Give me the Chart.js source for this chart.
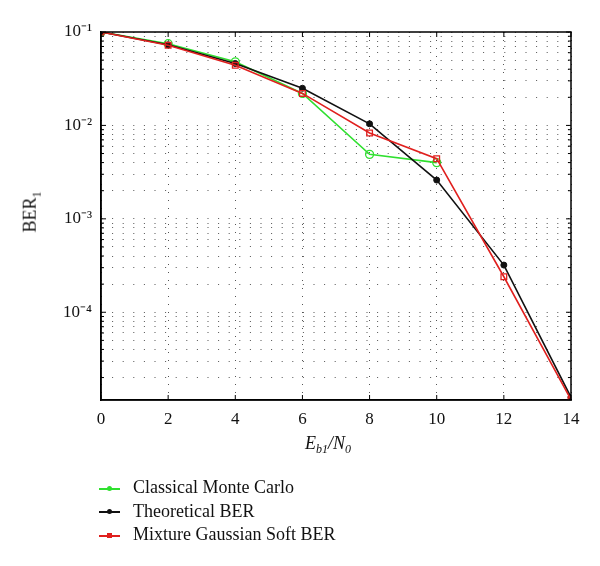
<!DOCTYPE html>
<html>
<head>
<meta charset="utf-8">
<script src="https://cdn.jsdelivr.net/npm/chart.js@4.4.1/dist/chart.umd.min.js"></script>
<style>
  html, body { margin: 0; padding: 0; background: #fff; }
  #wrap { position: relative; width: 600px; height: 566px; font-family: 'Liberation Serif', 'DejaVu Serif', serif; color: #111; }
  #chart { position: absolute; left: 0; top: 0; }
  .ytitle { position: absolute; left: 32px; top: 212px; transform: translate(-50%, -50%) rotate(-90deg); font-size: 18px; white-space: nowrap; }
  .xtitle { position: absolute; left: 328px; top: 445px; transform: translate(-50%, -50%); font-size: 18px; font-style: italic; white-space: nowrap; }
  .legend { position: absolute; left: 99px; top: 476px; font-size: 18px; }
  .legend div { height: 23.5px; line-height: 23px; white-space: nowrap; }
  .swatch { display: inline-block; position: relative; width: 21px; height: 2px; vertical-align: middle; margin-right: 13px; }
  .swatch i { position: absolute; left: 8px; top: -2px; width: 5px; height: 5px; border-radius: 50%; }
  .swatch.sq i { border-radius: 0; }
</style>
</head>
<body>
<div id="wrap">
  <canvas id="chart" width="600" height="566"></canvas>
  <div class="ytitle">BER<sub style="font-size:12px">1</sub></div>
  <div class="xtitle">E<sub style="font-size:12px">b1</sub>/N<sub style="font-size:12px">0</sub></div>
  <div class="legend" id="legend"></div>
</div>
<script>
// --- DATA ---
const ebN0 = [0, 2, 4, 6, 8, 10, 12, 14];
const monteCarlo = [0.1, 0.075, 0.048, 0.022, 0.0049, 0.0040];
const theoretical = [0.1, 0.073, 0.046, 0.025, 0.0104, 0.0026, 0.00032, 0.0000123];
const mixtureSoft = [0.1, 0.072, 0.044, 0.022, 0.0083, 0.0044, 0.00024, 0.0000116];
const xTicks = [0, 2, 4, 6, 8, 10, 12, 14];
const yDecades = [-5, -4, -3, -2, -1];
const yMin = 0.0000115, yMax = 0.1;

const seriesNames = ['Classical Monte Carlo', 'Theoretical BER', 'Mixture Gaussian Soft BER'];
const seriesColors = ['#2fe02f', '#111111', '#e0201e'];

const toPoints = vals => vals.map((v, i) => ({ x: ebN0[i], y: v }));

// minor log grid values (1..9 x 10^k) inside the range
const logTicks = [];
yDecades.forEach(k => {
  for (let m = 1; m <= 9; m++) {
    const v = m * Math.pow(10, k);
    if (v >= yMin * 0.999 && v <= yMax * 1.001) logTicks.push(v);
  }
});
const isDecade = v => Math.abs(Math.log10(v) - Math.round(Math.log10(v))) < 1e-6;
const sup = { '-': '\u207B', '0': '\u2070', '1': '\u00B9', '2': '\u00B2', '3': '\u00B3', '4': '\u2074', '5': '\u2075' };

// box frame + inward tick marks
const framePlugin = {
  id: 'frame',
  afterDraw(chart) {
    const { ctx, chartArea: a, scales } = chart;
    ctx.save();
    ctx.strokeStyle = '#000';
    ctx.lineWidth = 1.5;
    ctx.strokeRect(a.left, a.top, a.right - a.left, a.bottom - a.top);
    ctx.lineWidth = 1;
    ctx.beginPath();
    xTicks.forEach(t => {
      const px = scales.x.getPixelForValue(t);
      ctx.moveTo(px, a.bottom); ctx.lineTo(px, a.bottom - 5);
      ctx.moveTo(px, a.top); ctx.lineTo(px, a.top + 5);
    });
    logTicks.forEach(v => {
      const py = scales.y.getPixelForValue(v);
      const len = isDecade(v) ? 5 : 3;
      ctx.moveTo(a.left, py); ctx.lineTo(a.left + len, py);
      ctx.moveTo(a.right, py); ctx.lineTo(a.right - len, py);
    });
    ctx.stroke();
    ctx.restore();
  }
};

new Chart(document.getElementById('chart'), {
  type: 'line',
  data: {
    datasets: [
      {
        label: seriesNames[0], data: toPoints(monteCarlo), order: 3,
        borderColor: seriesColors[0], backgroundColor: 'rgba(0,0,0,0)', borderWidth: 1.6,
        pointStyle: 'circle', pointRadius: 4, pointBorderWidth: 1.3, pointBorderColor: seriesColors[0]
      },
      {
        label: seriesNames[1], data: toPoints(theoretical), order: 2,
        borderColor: seriesColors[1], backgroundColor: seriesColors[1], borderWidth: 1.6,
        pointStyle: 'circle', pointRadius: 3, pointBorderWidth: 1
      },
      {
        label: seriesNames[2], data: toPoints(mixtureSoft), order: 1,
        borderColor: seriesColors[2], backgroundColor: 'rgba(0,0,0,0)', borderWidth: 1.6,
        pointStyle: 'rect', pointRadius: 4, pointBorderWidth: 1.3, pointBorderColor: seriesColors[2]
      }
    ]
  },
  options: {
    responsive: false,
    animation: false,
    layout: { padding: { top: 32, right: 29, bottom: 0, left: 0 } },
    plugins: { legend: { display: false }, tooltip: { enabled: false } },
    elements: { line: { tension: 0 } },
    scales: {
      x: {
        type: 'linear', min: 0, max: 14,
        afterFit: s => { s.height = 166; },
        afterBuildTicks: s => { s.ticks = xTicks.map(v => ({ value: v })); },
        grid: { color: '#555', lineWidth: 1, drawTicks: false },
        border: { display: true, color: '#000', width: 1.5, dash: [1, 7] },
        ticks: { color: '#111', padding: 9, font: { family: 'Liberation Serif', size: 17 } }
      },
      y: {
        type: 'logarithmic', min: yMin, max: yMax,
        afterFit: s => { s.width = 101; },
        afterBuildTicks: s => { s.ticks = logTicks.map(v => ({ value: v })); },
        grid: { color: '#555', lineWidth: 1, drawTicks: false },
        border: { display: true, color: '#000', width: 1.5, dash: [1, 9.6] },
        ticks: {
          color: '#111', padding: 9, autoSkip: false,
          font: { family: 'Liberation Serif', size: 17 },
          callback: v => isDecade(v) ? '10' + String(Math.round(Math.log10(v))).split('').map(c => sup[c]).join('') : ''
        }
      }
    }
  },
  plugins: [framePlugin]
});

// legend as html
const legendEl = document.getElementById('legend');
seriesNames.forEach((name, i) => {
  const row = document.createElement('div');
  const sq = i === 2 ? ' sq' : '';
  row.innerHTML = `<span class="swatch${sq}" style="background:${seriesColors[i]}"><i style="background:${seriesColors[i]}"></i></span>${name}`;
  legendEl.appendChild(row);
});
</script>
</body>
</html>
